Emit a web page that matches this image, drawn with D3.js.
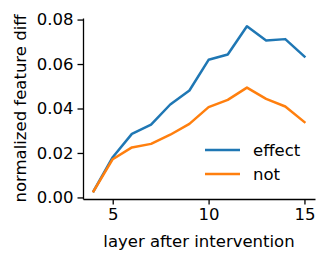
<!DOCTYPE html>
<html>
<head>
<meta charset="utf-8">
<script src="https://cdn.jsdelivr.net/npm/d3@7"></script>
<style>
  body { margin: 0; background: #fff; }
  text { font-family: "DejaVu Sans", sans-serif; fill: #000; }
</style>
</head>
<body>
<script>
  var layers = [4, 5, 6, 7, 8, 9, 10, 11, 12, 13, 14, 15];
  var effect = [0.0028, 0.0181, 0.0286, 0.0327, 0.0418, 0.0481, 0.0619, 0.0643, 0.0770, 0.0706, 0.0712, 0.0634];
  var notEffect = [0.0028, 0.0172, 0.0225, 0.0241, 0.0282, 0.0331, 0.0406, 0.0439, 0.0494, 0.0443, 0.0409, 0.0339];
  var xTicks = [5, 10, 15];
  var yTicks = [0, 0.02, 0.04, 0.06, 0.08];
  var series = [
    { name: "effect", values: effect, color: "#1f77b4" },
    { name: "not", values: notEffect, color: "#ff7f0e" }
  ];

  var width = 333, height = 261;
  var margin = { top: 18, right: 18, bottom: 62, left: 83 };

  var svg = d3.select("body").append("svg")
      .attr("width", width)
      .attr("height", height);

  var x = d3.scaleLinear()
      .domain([3.45, 15.55])
      .range([margin.left, width - margin.right]);

  var y = d3.scaleLinear()
      .domain([-0.0007, 0.0807])
      .range([height - margin.bottom, margin.top]);

  var fs = 16.5;

  // axes
  var xAxis = svg.append("g")
      .attr("transform", "translate(0," + (height - margin.bottom) + ")")
      .call(d3.axisBottom(x).tickValues(xTicks).tickSize(5.5).tickPadding(4).tickSizeOuter(0));

  var yAxis = svg.append("g")
      .attr("transform", "translate(" + margin.left + ",0)")
      .call(d3.axisLeft(y).tickValues(yTicks).tickFormat(d3.format(".2f")).tickSize(5.5).tickPadding(4).tickSizeOuter(0));

  svg.selectAll(".domain").attr("stroke-width", 1.3);
  svg.selectAll(".tick line").attr("stroke-width", 1.3);
  svg.selectAll(".tick text").style("font-size", fs + "px").style("font-family", "DejaVu Sans");

  svg.append("text")
      .attr("x", (x.range()[0] + x.range()[1]) / 2)
      .attr("y", 247)
      .attr("text-anchor", "middle")
      .style("font-size", fs + "px")
      .text("layer after intervention");

  svg.append("text")
      .attr("transform", "translate(26," + ((y.range()[0] + y.range()[1]) / 2) + ") rotate(-90)")
      .attr("text-anchor", "middle")
      .style("font-size", fs + "px")
      .text("normalized feature diff");

  // lines
  var line = d3.line()
      .x(function(d, i) { return x(layers[i]); })
      .y(function(d) { return y(d); });

  svg.selectAll(".series")
      .data(series)
      .enter().append("path")
      .attr("fill", "none")
      .attr("stroke", function(d) { return d.color; })
      .attr("stroke-width", 2.5)
      .attr("stroke-linejoin", "round")
      .attr("stroke-linecap", "square")
      .attr("d", function(d) { return line(d.values); });

  // legend
  var legend = svg.append("g").selectAll("g")
      .data(series)
      .enter().append("g")
      .attr("transform", function(d, i) { return "translate(205," + (150 + i * 24) + ")"; });

  legend.append("line")
      .attr("x1", 0).attr("x2", 35)
      .attr("stroke", function(d) { return d.color; })
      .attr("stroke-width", 2.5);

  legend.append("text")
      .attr("x", 48)
      .attr("y", 6)
      .style("font-size", fs + "px")
      .text(function(d) { return d.name; });
</script>
</body>
</html>
